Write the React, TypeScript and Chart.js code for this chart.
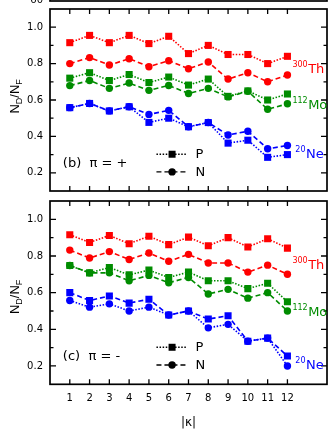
import React, { useEffect, useRef } from "react";
import { Chart, registerables } from "chart.js";

Chart.register(...registerables);

// ---------- data ----------
const kappa = [1, 2, 3, 4, 5, 6, 7, 8, 9, 10, 11, 12];
const yMajor = [0.2, 0.4, 0.6, 0.8, 1.0];
const yMinor = [0.3, 0.5, 0.7, 0.9];

// panel (b)  pi = +
const thP_b = [0.915, 0.955, 0.915, 0.955, 0.91, 0.95, 0.855, 0.9, 0.85, 0.85, 0.8, 0.84];
const thN_b = [0.8, 0.833, 0.792, 0.827, 0.783, 0.816, 0.772, 0.809, 0.715, 0.75, 0.7, 0.737];
const moP_b = [0.72, 0.75, 0.707, 0.74, 0.696, 0.726, 0.682, 0.715, 0.62, 0.65, 0.6, 0.633];
const moN_b = [0.679, 0.707, 0.664, 0.693, 0.653, 0.68, 0.636, 0.664, 0.617, 0.648, 0.549, 0.579];
const neP_b = [0.558, 0.581, 0.54, 0.563, 0.477, 0.5, 0.453, 0.476, 0.363, 0.379, 0.285, 0.3];
const neN_b = [0.558, 0.581, 0.54, 0.563, 0.521, 0.543, 0.453, 0.476, 0.408, 0.428, 0.332, 0.35];

// panel (c)  pi = -
const thP_c = [0.916, 0.874, 0.912, 0.867, 0.908, 0.862, 0.903, 0.856, 0.9, 0.849, 0.894, 0.843];
const thN_c = [0.832, 0.789, 0.824, 0.781, 0.816, 0.771, 0.809, 0.762, 0.762, 0.712, 0.75, 0.7];
const moP_c = [0.748, 0.708, 0.737, 0.697, 0.723, 0.683, 0.712, 0.665, 0.665, 0.622, 0.651, 0.55];
const moN_c = [0.748, 0.708, 0.708, 0.665, 0.694, 0.654, 0.683, 0.593, 0.618, 0.57, 0.6, 0.5];
const neP_c = [0.6, 0.557, 0.582, 0.543, 0.564, 0.478, 0.5, 0.456, 0.474, 0.335, 0.352, 0.254];
const neN_c = [0.557, 0.521, 0.539, 0.5, 0.521, 0.478, 0.5, 0.408, 0.427, 0.335, 0.352, 0.2];

const nuclei = [
  { sup: "300", name: "Th" },
  { sup: "112", name: "Mo" },
  { sup: "20", name: "Ne" },
];

// ---------- styles ----------
const RED = "#ff0000";
const GREEN = "#008c00";
const BLUE = "#0000ff";
const DOT = [1.5, 1.6];
const DASH = [5, 3];
const FONT = '"DejaVu Sans", "Liberation Sans", Arial, sans-serif';
const SFONT = '"Liberation Sans", Arial, sans-serif';

function series(vals: number[], color: string, marker: "rect" | "circle", dash: number[]) {
  return {
    data: kappa.map((k, i) => ({ x: k, y: vals[i] })),
    borderColor: color,
    backgroundColor: color,
    borderWidth: 1.6,
    borderDash: dash,
    pointStyle: marker,
    pointRadius: marker === "rect" ? 5 : 3.7,
    pointBorderWidth: 0,
    pointBackgroundColor: color,
    tension: 0,
    fill: false,
  };
}

type Panel = {
  tag: string;
  datasets: any[];
  labels: { x: number; y: number; color: string }[];
  titleY: number;
};

const panelB: Panel = {
  tag: "(b)  \u03C0 = +",
  datasets: [
    series(thP_b, RED, "rect", DOT),
    series(thN_b, RED, "circle", DASH),
    series(moP_b, GREEN, "rect", DOT),
    series(moN_b, GREEN, "circle", DASH),
    series(neP_b, BLUE, "rect", DOT),
    series(neN_b, BLUE, "circle", DASH),
  ],
  labels: [
    { x: 12.25, y: 0.751, color: RED },
    { x: 12.25, y: 0.549, color: GREEN },
    { x: 12.4, y: 0.281, color: BLUE },
  ],
  titleY: 0.62,
};

const panelC: Panel = {
  tag: "(c)  \u03C0 = -",
  datasets: [
    series(thP_c, RED, "rect", DOT),
    series(thN_c, RED, "circle", DASH),
    series(moP_c, GREEN, "rect", DOT),
    series(moN_c, GREEN, "circle", DASH),
    series(neP_c, BLUE, "rect", DASH),
    series(neN_c, BLUE, "circle", DOT),
  ],
  labels: [
    { x: 12.25, y: 0.728, color: RED },
    { x: 12.25, y: 0.474, color: GREEN },
    { x: 12.4, y: 0.182, color: BLUE },
  ],
  titleY: 0.577,
};

function decor(p: Panel, isTop: boolean) {
  return {
    id: "decor",
    afterDraw(chart: any) {
      const { ctx, chartArea: a, scales } = chart;
      const x = scales.x;
      const y = scales.y;
      ctx.save();
      ctx.setLineDash([]);
      ctx.strokeStyle = "#000";
      ctx.fillStyle = "#000";

      // frame
      ctx.lineWidth = 1.7;
      ctx.strokeRect(a.left, a.top, a.right - a.left, a.bottom - a.top);

      // inward ticks
      ctx.lineWidth = 1.3;
      ctx.beginPath();
      for (const v of yMajor) {
        const py = y.getPixelForValue(v);
        ctx.moveTo(a.left, py);
        ctx.lineTo(a.left + 6, py);
        ctx.moveTo(a.right, py);
        ctx.lineTo(a.right - 6, py);
      }
      for (const v of yMinor) {
        const py = y.getPixelForValue(v);
        ctx.moveTo(a.left, py);
        ctx.lineTo(a.left + 3.5, py);
        ctx.moveTo(a.right, py);
        ctx.lineTo(a.right - 3.5, py);
      }
      for (const k of kappa) {
        const px = x.getPixelForValue(k);
        ctx.moveTo(px, a.top);
        ctx.lineTo(px, a.top + 5);
        ctx.moveTo(px, a.bottom);
        ctx.lineTo(px, a.bottom - 5);
      }
      ctx.stroke();

      // remnant of panel (a) above
      if (isTop) {
        ctx.lineWidth = 1.7;
        ctx.strokeRect(a.left, -30, a.right - a.left, 31);
        ctx.font = "10px " + FONT;
        ctx.textAlign = "right";
        ctx.textBaseline = "alphabetic";
        ctx.fillText("60", 43, 2.5);
      }

      // panel tag
      ctx.font = "13px " + FONT;
      ctx.textAlign = "left";
      ctx.textBaseline = "middle";
      ctx.fillText(p.tag, x.getPixelForValue(0.65), y.getPixelForValue(0.253));

      // legend
      const lx0 = x.getPixelForValue(5.38);
      const lx1 = x.getPixelForValue(6.94);
      const lm = x.getPixelForValue(6.17);
      const rows = [
        { v: 0.302, dash: DOT, marker: "rect", text: "P" },
        { v: 0.205, dash: DASH, marker: "circle", text: "N" },
      ];
      for (const r of rows) {
        const py = y.getPixelForValue(r.v);
        ctx.lineWidth = 1.4;
        ctx.setLineDash(r.dash);
        ctx.beginPath();
        ctx.moveTo(lx0, py);
        ctx.lineTo(lx1, py);
        ctx.stroke();
        ctx.setLineDash([]);
        if (r.marker === "rect") {
          ctx.fillRect(lm - 3.5, py - 3.5, 7, 7);
        } else {
          ctx.beginPath();
          ctx.arc(lm, py, 3.7, 0, Math.PI * 2);
          ctx.fill();
        }
        ctx.font = "13px " + FONT;
        ctx.textAlign = "left";
        ctx.textBaseline = "middle";
        ctx.fillText(r.text, x.getPixelForValue(7.35), py + 0.5);
      }

      // nucleus labels
      p.labels.forEach((l, i) => {
        const px = x.getPixelForValue(l.x);
        const py = y.getPixelForValue(l.y);
        ctx.fillStyle = l.color;
        ctx.textAlign = "left";
        ctx.textBaseline = "alphabetic";
        ctx.font = "8px " + FONT;
        ctx.fillText(nuclei[i].sup, px, py - 6);
        const w = ctx.measureText(nuclei[i].sup).width;
        ctx.font = "13px " + FONT;
        ctx.fillText(nuclei[i].name, px + w + 0.5, py);
      });

      // y title N_D/N_F (rotated)
      ctx.fillStyle = "#000";
      ctx.translate(14, y.getPixelForValue(p.titleY));
      ctx.rotate(-Math.PI / 2);
      const parts = [
        { t: "N", sub: false },
        { t: "D", sub: true },
        { t: "/", sub: false },
        { t: "N", sub: false },
        { t: "F", sub: true },
      ];
      const big = "13px " + SFONT;
      const small = "9px " + SFONT;
      let total = 0;
      for (const pt of parts) {
        ctx.font = pt.sub ? small : big;
        total += ctx.measureText(pt.t).width;
      }
      let cx = -total / 2;
      ctx.textAlign = "left";
      ctx.textBaseline = "alphabetic";
      for (const pt of parts) {
        ctx.font = pt.sub ? small : big;
        ctx.fillText(pt.t, cx, pt.sub ? 7.5 : 4.7);
        cx += ctx.measureText(pt.t).width;
      }
      ctx.restore();
    },
  };
}

function makeConfig(p: Panel, isTop: boolean): any {
  return {
    type: "line",
    data: { datasets: p.datasets },
    options: {
      responsive: false,
      animation: false,
      devicePixelRatio: 1,
      layout: {
        padding: isTop
          ? { left: 0, right: 4, top: 9, bottom: 3.3 }
          : { left: 0, right: 4, top: 3.3, bottom: 0 },
      },
      plugins: {
        legend: { display: false },
        tooltip: { enabled: false },
        title: { display: false },
      },
      scales: {
        x: {
          type: "linear",
          min: 0,
          max: 14,
          display: !isTop,
          grid: { display: false, drawTicks: false },
          border: { display: false },
          afterBuildTicks: (s: any) => {
            s.ticks = kappa.map((v) => ({ value: v }));
          },
          ticks: {
            display: !isTop,
            autoSkip: false,
            maxRotation: 0,
            padding: 8,
            color: "#000",
            font: { family: FONT, size: 10 },
            callback: (v: any) => String(v),
          },
          title: {
            display: !isTop,
            text: "|\u03BA|",
            color: "#000",
            font: { family: FONT, size: 12 },
            padding: { top: 0, bottom: 0 },
          },
          afterFit: (s: any) => {
            s.height = isTop ? 0 : 45.7;
            s.paddingLeft = 0;
            s.paddingRight = 0;
          },
        },
        y: {
          type: "linear",
          min: 0.1,
          max: 1.1,
          grid: { display: false, drawTicks: false },
          border: { display: false },
          afterBuildTicks: (s: any) => {
            s.ticks = yMajor.map((v) => ({ value: v }));
          },
          ticks: {
            padding: 7,
            color: "#000",
            font: { family: FONT, size: 10 },
            callback: (v: any) => Number(v).toFixed(1),
          },
          afterFit: (s: any) => {
            s.width = 50;
            s.paddingTop = 0;
            s.paddingBottom = 0;
          },
        },
      },
    },
    plugins: [decor(p, isTop)],
  };
}

export default function App() {
  const topRef = useRef<HTMLCanvasElement>(null);
  const botRef = useRef<HTMLCanvasElement>(null);

  useEffect(() => {
    const c1 = new Chart(topRef.current as HTMLCanvasElement, makeConfig(panelB, true));
    const c2 = new Chart(botRef.current as HTMLCanvasElement, makeConfig(panelC, false));
    return () => {
      c1.destroy();
      c2.destroy();
    };
  }, []);

  return (
    <div
      style={{
        position: "fixed",
        left: 0,
        top: 0,
        width: 332,
        height: 430,
        background: "#fff",
        overflow: "hidden",
      }}
    >
      <canvas
        ref={topRef}
        width={332}
        height={196}
        style={{ position: "absolute", left: 0, top: 0, width: 332, height: 196 }}
      />
      <canvas
        ref={botRef}
        width={332}
        height={234}
        style={{ position: "absolute", left: 0, top: 196, width: 332, height: 234 }}
      />
    </div>
  );
}
